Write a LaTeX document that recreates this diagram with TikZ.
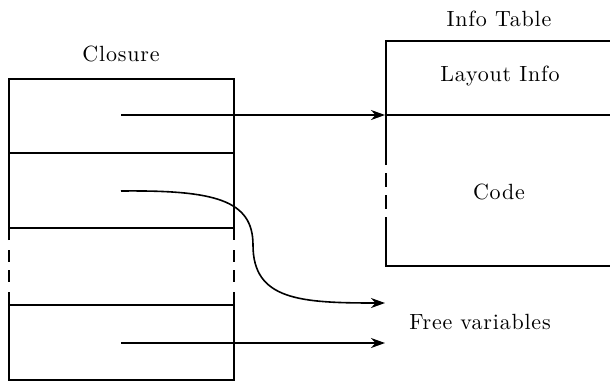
\documentclass[tikz,border=0pt]{standalone}
\usepackage{fontspec}
\usetikzlibrary{arrows.meta}
% slightly spaced-out roman for the labels
\newfontfamily\lblfont{lmroman10-regular.otf}[LetterSpace=3.6]
\begin{document}
\begin{tikzpicture}[x=0.5pt,y=-0.5pt,
  wall/.style={line width=0.9pt},
  broken/.style={line width=0.9pt,dash pattern=on 0pt off 5pt on 6pt off 4pt on 6pt off 5pt},
  ptr/.style={line width=0.8pt,-{Stealth[length=7pt,width=5pt,inset=2.2pt]}},
  lbl/.style={anchor=base,inner sep=0pt,font=\lblfont\fontsize{11}{13}\selectfont}]
\useasboundingbox (0,0) rectangle (610,381);

% closure record: four slots, the third one with broken sides
\draw[wall] (9,240) -- (9,79) -- (234,79) -- (234,240);
\draw[wall] (9,292) -- (9,380) -- (234,380) -- (234,292);
\draw[broken] (9,240) -- (9,292);
\draw[broken] (234,240) -- (234,292);
\draw[wall] (9,153) -- (234,153);
\draw[wall] (9,228) -- (234,228);
\draw[wall] (9,305) -- (234,305);
\node[lbl] (closure) at (121,61) {Closure};

% info table, running off the right edge
\draw[wall] (386,165) -- (386,41) -- (612,41);
\draw[wall] (386,217) -- (386,266) -- (612,266);
\draw[line width=0.9pt,dash pattern=on 0pt off 4pt on 7pt off 4pt on 7pt off 4pt] (386,165) -- (386,217);
\draw[wall] (386,115) -- (612,115);
\node[lbl] (itab) at (499,26) {Info Table};
\node[lbl] (layout) at (500,81) {Layout Info};
\node[lbl] (code) at (499,199) {Code};
\node[lbl] (free) at (480,329) {Free variables};

% pointers out of the closure slots
\coordinate (s1) at (121,115);
\coordinate (s2) at (121,191);
\coordinate (s4) at (121,343);
\coordinate (t1) at (385,115);
\coordinate (t2) at (385,303);
\coordinate (t4) at (385,343);
\coordinate (bend) at (253,245);
\draw[ptr] (s1) -- (t1);
\draw[ptr] (s2) .. controls (215,190) and (253,200) .. (bend)
               .. controls (253,300) and (300,303) .. (t2);
\draw[ptr] (s4) -- (t4);
\end{tikzpicture}
\end{document}
